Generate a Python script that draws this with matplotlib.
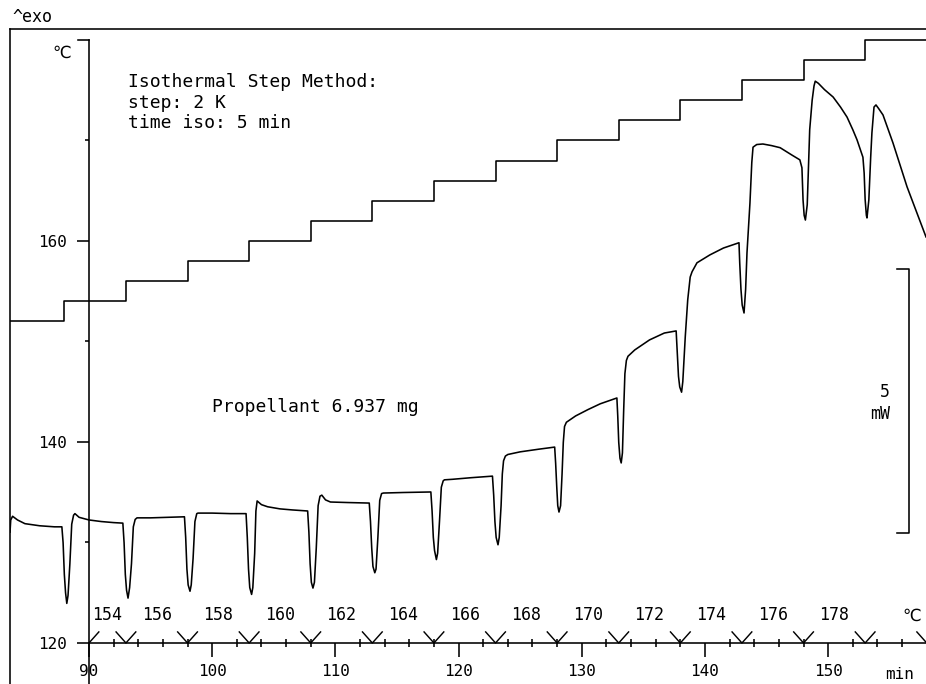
import matplotlib
matplotlib.use('Agg')
import matplotlib.pyplot as plt
from matplotlib.ticker import FixedLocator

plt.rcParams['font.family'] = ['DejaVu Sans Mono', 'DejaVu Sans']

# ---------------- data ----------------
t_start = 83.59          # min, left end of record
t_end = 157.94           # min, right end of record

step_times = [88, 93, 98, 103, 108, 113, 118, 123, 128, 133, 138, 143, 148, 153]
step_levels = [152, 154, 156, 158, 160, 162, 164, 166, 168, 170, 172, 174, 176, 178, 180]

temp_marks = [93, 98, 103, 108, 113, 118, 123, 128, 133, 138, 143, 148, 153, 158]
temp_labels = [154, 156, 158, 160, 162, 164, 166, 168, 170, 172, 174, 176, 178]

x_ticks = [90, 100, 110, 120, 130, 140, 150]
y_ticks = [120, 140, 160]
y_minor = [130, 150, 170]

dsc_time = [
    83.59, 83.65, 83.80, 84.20, 84.80, 86.00, 87.20, 87.80,
    87.90, 88.00, 88.10, 88.20, 88.30, 88.45, 88.60, 88.75,
    88.86, 89.20, 90.00, 91.00, 92.00, 92.75,
    92.85, 92.95, 93.05, 93.17, 93.30, 93.45, 93.60, 93.75,
    93.90, 95.00, 96.50, 97.75,
    97.85, 97.95, 98.05, 98.20, 98.30, 98.45, 98.60, 98.75,
    98.85, 100.00, 101.50, 102.75,
    102.85, 102.95, 103.05, 103.20, 103.30, 103.45, 103.55,
    103.65, 104.00, 104.50, 105.50, 106.50, 107.75,
    107.85, 107.95, 108.05, 108.18, 108.30, 108.45, 108.60, 108.75,
    108.90, 109.20, 109.60, 111.00, 112.75,
    112.85, 112.95, 113.05, 113.20, 113.30, 113.45, 113.60, 113.75,
    113.90, 115.50, 117.75,
    117.85, 117.95, 118.05, 118.20, 118.30, 118.45, 118.60, 118.75,
    118.85, 119.50, 121.00, 122.75,
    122.85, 122.95, 123.05, 123.20, 123.30, 123.45, 123.55, 123.65,
    123.80, 124.00, 125.00, 126.50, 127.80,
    127.88, 127.97, 128.05, 128.15, 128.28, 128.40, 128.50, 128.60,
    128.75, 129.50, 130.50, 131.50, 132.85,
    132.92, 133.00, 133.10, 133.20, 133.30, 133.40, 133.50, 133.62,
    133.75, 134.30, 135.50, 136.70, 137.66,
    137.75, 137.85, 137.95, 138.10, 138.20, 138.40, 138.60, 138.80,
    138.95, 139.35, 140.40, 141.50, 142.76,
    142.82, 142.92, 143.02, 143.17, 143.30, 143.41, 143.65, 143.80,
    143.90, 144.20, 144.70, 145.40, 146.10, 147.06, 147.70,
    147.87, 147.96, 148.05, 148.15, 148.30, 148.40, 148.50, 148.70, 148.85,
    148.95, 149.20, 149.70, 150.40, 151.00, 151.53, 152.00, 152.34, 152.82,
    152.92, 153.00, 153.10, 153.15, 153.30, 153.45, 153.55, 153.72,
    153.88, 154.10, 154.45, 155.26, 156.40, 157.94,
]
dsc_mw = [
    2.10, 2.33, 2.40, 2.33, 2.26, 2.22, 2.20, 2.20,
    1.90, 1.30, 0.95, 0.75, 0.90, 1.50, 2.25, 2.42,
    2.45, 2.38, 2.33, 2.30, 2.28, 2.27,
    1.90, 1.30, 1.00, 0.85, 1.05, 1.50, 2.20, 2.34,
    2.37, 2.37, 2.38, 2.39,
    2.00, 1.40, 1.10, 0.98, 1.10, 1.60, 2.30, 2.45,
    2.46, 2.46, 2.45, 2.45,
    2.00, 1.40, 1.05, 0.92, 1.05, 1.70, 2.50,
    2.69, 2.62, 2.58, 2.54, 2.52, 2.50,
    2.10, 1.50, 1.15, 1.04, 1.15, 1.80, 2.60, 2.78,
    2.80, 2.71, 2.67, 2.66, 2.65,
    2.30, 1.80, 1.45, 1.33, 1.40, 2.00, 2.70, 2.83,
    2.84, 2.85, 2.86,
    2.50, 2.00, 1.75, 1.58, 1.70, 2.30, 2.95, 3.07,
    3.09, 3.10, 3.13, 3.16,
    2.80, 2.30, 2.00, 1.86, 2.00, 2.60, 3.20, 3.45,
    3.54, 3.57, 3.62, 3.67, 3.71,
    3.40, 2.95, 2.60, 2.48, 2.60, 3.20, 3.80, 4.10,
    4.18, 4.30, 4.42, 4.53, 4.64,
    4.30, 3.80, 3.50, 3.41, 3.60, 4.40, 5.10, 5.35,
    5.43, 5.55, 5.74, 5.87, 5.91,
    5.50, 5.05, 4.85, 4.75, 4.95, 5.80, 6.50, 6.93,
    7.03, 7.20, 7.35, 7.48, 7.58,
    7.20, 6.70, 6.40, 6.25, 6.70, 7.39, 8.33, 9.10,
    9.39, 9.44, 9.45, 9.42, 9.38, 9.24, 9.15,
    9.00, 8.39, 8.10, 8.01, 8.30, 9.00, 9.72, 10.28, 10.55,
    10.64, 10.60, 10.48, 10.34, 10.15, 9.96, 9.72, 9.53, 9.20,
    8.90, 8.40, 8.10, 8.05, 8.39, 9.20, 9.66, 10.15,
    10.19, 10.12, 10.00, 9.47, 8.64, 7.69,
]

scale_bar_mw = 5          # mW
scale_bar_bottom = 2.08   # mW position of the bar's lower end

# ---------------- layout / style ----------------
W, H, DPI = 926, 684, 100
px_per_degC = 10.05
px_per_mW = 52.8
ylim_T = (115.92, 181.09)
lw = 1.15
fs_tick = 11.5
fs_mark = 12
fs_text = 13

fig = plt.figure(figsize=(W / DPI, H / DPI), dpi=DPI)
ax = fig.add_axes([10 / W, 0, 916 / W, 655 / H])
ax.set_xlim(t_start, t_end)
ax.set_ylim(*ylim_T)
ax.patch.set_visible(False)

# temperature program (step curve)
ax.step([t_start] + step_times + [t_end], step_levels + [step_levels[-1]],
        where='post', color='black', lw=lw)

# spines positioned as in the instrument plot
for s in ('top', 'right'):
    ax.spines[s].set_visible(False)
ax.spines['left'].set_position(('data', 90))
ax.spines['bottom'].set_position(('data', 120))
ax.spines['left'].set_bounds(ylim_T[0], 180)
ax.spines['bottom'].set_bounds(90, t_end)
for s in ('left', 'bottom'):
    ax.spines[s].set_linewidth(lw)

ax.xaxis.set_major_locator(FixedLocator(x_ticks))
ax.xaxis.set_minor_locator(FixedLocator([v for v in range(92, 158, 2) if v % 10]))
ax.yaxis.set_major_locator(FixedLocator(y_ticks))
ax.yaxis.set_minor_locator(FixedLocator(y_minor))
ax.set_xticklabels([str(v) for v in x_ticks])
ax.set_yticklabels([str(v) for v in y_ticks])
ax.tick_params(axis='x', which='major', direction='out', length=10, width=lw,
               pad=5, labelsize=fs_tick)
ax.tick_params(axis='x', which='minor', direction='inout', length=5.5, width=lw)
ax.tick_params(axis='y', which='major', direction='out', length=8.6, width=lw,
               pad=7, labelsize=fs_tick)
ax.tick_params(axis='y', which='minor', direction='out', length=2.8, width=lw)

# outer frame (left and top border of the recorder sheet)
ax.plot([0, 0], [-0.05, 1], transform=ax.transAxes, color='black', lw=lw, clip_on=False)
ax.plot([0, 1], [1, 1], transform=ax.transAxes, color='black', lw=lw, clip_on=False)

# bracket at top of temperature axis
ax.plot([89.1, 90], [180, 180], color='black', lw=lw)

# temperature marks along the time axis
ax.plot([90, 90.8], [120, 121.1], color='black', lw=lw * 0.9)
for m in temp_marks:
    ax.plot([m - 0.8, m, m + 0.8], [121.1, 120, 121.1], color='black', lw=lw * 0.9)
bounds = [90] + temp_marks
for i, lab in enumerate(temp_labels):
    ax.text((bounds[i] + bounds[i + 1]) / 2, 122.75, str(lab), ha='center',
            va='center', fontsize=fs_mark)
ax.text(156.8, 122.75, '℃', ha='center', va='center', fontsize=fs_mark)

# axis unit labels
ax.text(87.8, 178.7, '℃', ha='center', va='center', fontsize=fs_mark)
ax.text(155.8, 116.9, 'min', ha='center', va='center', fontsize=fs_tick)
fig.text(12 / W, 1 - 17 / H, '^exo', ha='left', va='center', fontsize=fs_mark)

# annotations
ax.text(93.15, 176.7, 'Isothermal Step Method:\nstep: 2 K\ntime iso: 5 min',
        ha='left', va='top', fontsize=fs_text, linespacing=1.18)
ax.text(99.95, 143.5, 'Propellant 6.937 mg', ha='left', va='center', fontsize=fs_text)

# heat flow curve on its own (hidden) mW scale
ax2 = ax.twinx()
ax2.set_ylim((ylim_T[0] - 120) * px_per_degC / px_per_mW,
             (ylim_T[1] - 120) * px_per_degC / px_per_mW)
ax2.set_xlim(t_start, t_end)
ax2.axis('off')
ax2.plot(dsc_time, dsc_mw, color='black', lw=lw)

# 5 mW scale bar
bar_x = 156.56
bar_top = scale_bar_bottom + scale_bar_mw
ax2.plot([155.6, bar_x, bar_x, 155.6], [scale_bar_bottom, scale_bar_bottom, bar_top, bar_top],
         color='black', lw=lw)
ax2.text(155.0, 4.75, str(scale_bar_mw), ha='right', va='center', fontsize=fs_mark)
ax2.text(155.0, 4.33, 'mW', ha='right', va='center', fontsize=fs_mark)

fig.savefig('out.png', dpi=DPI, facecolor='white')
